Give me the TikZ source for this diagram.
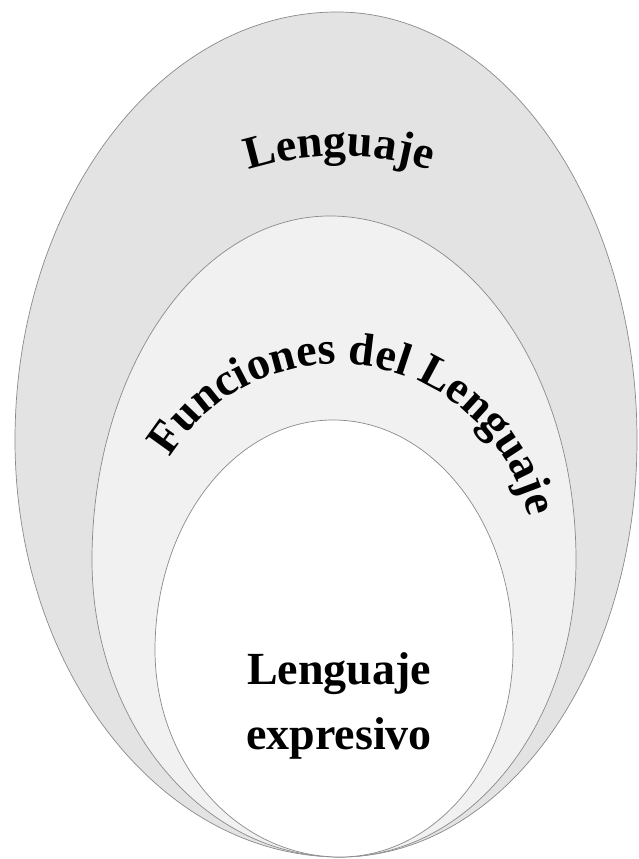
\documentclass[tikz,border=0pt]{standalone}
\usepackage{fontspec}
\setmainfont{Liberation Serif}
\usetikzlibrary{decorations.text}
\definecolor{ringA}{HTML}{E3E3E3}
\definecolor{ringB}{HTML}{F1F1F1}
\definecolor{ringC}{HTML}{FFFFFF}
\definecolor{edgegray}{HTML}{8A8A8A}
\begin{document}
\begin{tikzpicture}[x=1pt,y=1pt,
  ring/.style={draw=edgegray, line width=0.7pt},
  bigtext/.style={font=\fontsize{46}{46}\selectfont\bfseries, inner sep=0pt}]
\useasboundingbox (0,0) rectangle (639,859);
\fill[white] (0,0) rectangle (639,859);
% outer ring
\path[ring, fill=ringA] (337,847) .. controls (502.7,847) and (637,655.4) .. (637,419)
  .. controls (637,188.7) and (504,2) .. (340,2)
  .. controls (160.5,2) and (15,188.7) .. (15,419)
  .. controls (15,655.4) and (159.2,847) .. cycle;
% middle ring
\path[ring, fill=ringB] (330,643) .. controls (465.9,643) and (576,489) .. (576,299)
  .. controls (576,135) and (470.3,2) .. (340,2)
  .. controls (203,2) and (92,135) .. (92,299)
  .. controls (92,489) and (198.6,643) .. cycle;
% inner ring
\path[ring, fill=ringC] (333,439) .. controls (432.4,439) and (513,336) .. (513,209)
  .. controls (513,94.7) and (435.5,2) .. (340,2)
  .. controls (237.8,2) and (155,94.7) .. (155,209)
  .. controls (155,336) and (234.7,439) .. cycle;
% curved labels
\path[decorate, decoration={text along path, text align=center,
  text={|\fontsize{46}{46}\selectfont\bfseries|Lenguaje}}]
  (166.93,648.75) arc[start angle=125, end angle=55, radius=300pt];
\path[decorate, decoration={text along path, text align=center,
  text={|\fontsize{46}{46}\selectfont\bfseries|Funciones del Lenguaje}}]
  (147.24,348.07) arc[start angle=165.5, end angle=-4.5, radius=196pt];
% inner label
\node[bigtext, anchor=base] (inA) at (339,174) {Lenguaje};
\node[bigtext, anchor=base] (inB) at (339,109) {expresivo};
\end{tikzpicture}
\end{document}
